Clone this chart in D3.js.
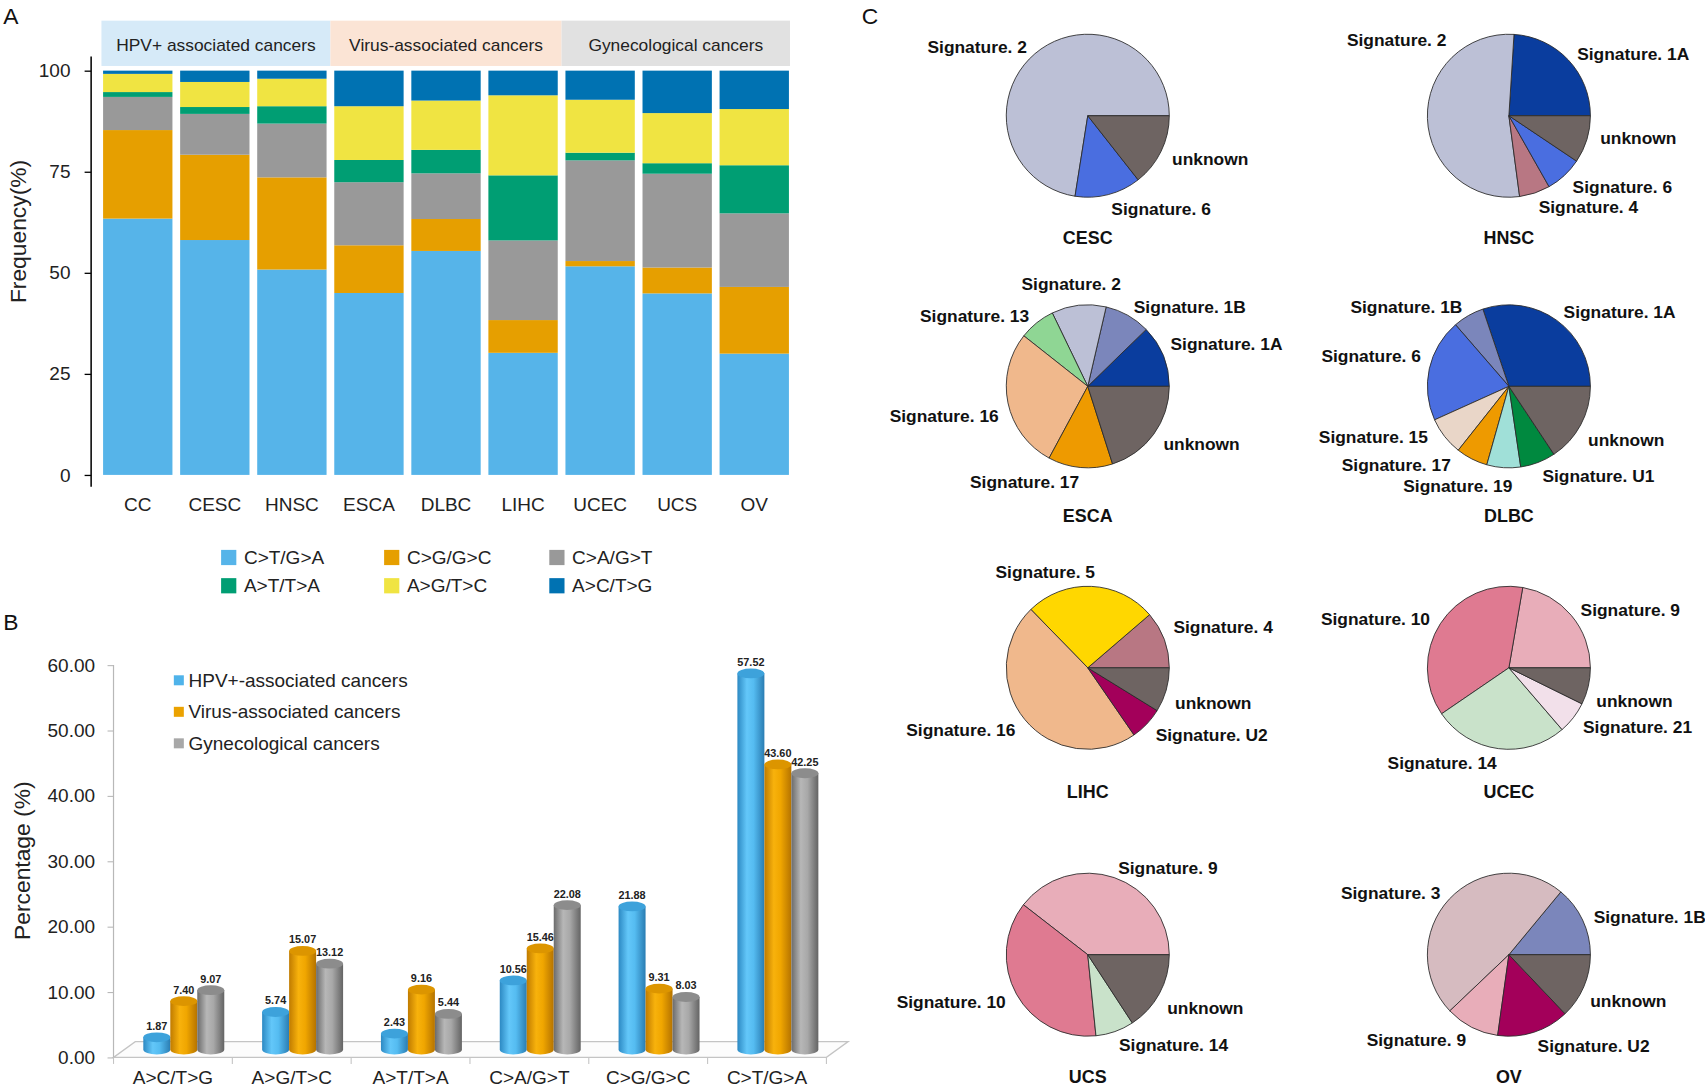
<!DOCTYPE html>
<html>
<head>
<meta charset="utf-8">
<script src="https://cdn.jsdelivr.net/npm/d3@7"></script>
<style>
  body { margin: 0; background: #fff; }
  svg { display: block; font-family: "Liberation Sans", Arial, sans-serif; }
</style>
</head>
<body>
<svg id="fig"></svg>
<script>
// ---------- panel A : mutation spectrum per cancer ----------
const cancersA = ["CC", "CESC", "HNSC", "ESCA", "DLBC", "LIHC", "UCEC", "UCS", "OV"];
const mutTypesA = ["C>T/G>A", "C>G/G>C", "C>A/G>T", "A>T/T>A", "A>G/T>C", "A>C/T>G"];
const ctgaA = [63.4, 58.1, 50.8, 45.0, 55.4, 30.2, 51.6, 44.9, 30.0];
const cggcA = [21.9, 21.1, 22.8, 11.8, 7.9, 8.1, 1.3, 6.4, 16.5];
const cagtA = [8.2, 10.1, 13.3, 15.6, 11.3, 19.7, 24.9, 23.2, 18.2];
const attaA = [1.2, 1.7, 4.3, 5.5, 5.8, 16.1, 1.9, 2.6, 11.9];
const agtcA = [4.5, 6.2, 6.8, 13.3, 12.2, 19.8, 13.1, 12.4, 13.9];
const actgA = [0.8, 2.8, 2.0, 8.8, 7.4, 6.1, 7.2, 10.5, 9.5];
const yTicksA = [0, 25, 50, 75, 100];
const groupNamesA = ["HPV+ associated cancers", "Virus-associated cancers", "Gynecological cancers"];
const groupMembersA = [["CC", "CESC", "HNSC"], ["ESCA", "DLBC", "LIHC"], ["UCEC", "UCS", "OV"]];

// ---------- panel B : average spectrum per cancer group ----------
const typesB = ["A>C/T>G", "A>G/T>C", "A>T/T>A", "C>A/G>T", "C>G/G>C", "C>T/G>A"];
const seriesB = ["HPV+-associated cancers", "Virus-associated cancers", "Gynecological cancers"];
const hpvB = [1.87, 5.74, 2.43, 10.56, 21.88, 57.52];
const virusB = [7.40, 15.07, 9.16, 15.46, 9.31, 43.60];
const gynB = [9.07, 13.12, 5.44, 22.08, 8.03, 42.25];
const yTicksB = [0, 10, 20, 30, 40, 50, 60];

// ---------- panel C : signature contributions ----------
const pieCancers = ["CESC", "HNSC", "ESCA", "DLBC", "LIHC", "UCEC", "UCS", "OV"];
const pieLabels = [
    ["Signature. 2", "Signature. 6", "unknown"],
    ["Signature. 1A", "Signature. 2", "Signature. 4", "Signature. 6", "unknown"],
    ["Signature. 1A", "Signature. 1B", "Signature. 2", "Signature. 13", "Signature. 16", "Signature. 17", "unknown"],
    ["Signature. 1A", "Signature. 1B", "Signature. 6", "Signature. 15", "Signature. 17", "Signature. 19", "Signature. U1", "unknown"],
    ["Signature. 4", "Signature. 5", "Signature. 16", "Signature. U2", "unknown"],
    ["Signature. 9", "Signature. 10", "Signature. 14", "Signature. 21", "unknown"],
    ["Signature. 9", "Signature. 10", "Signature. 14", "unknown"],
    ["Signature. 1B", "Signature. 3", "Signature. 9", "Signature. U2", "unknown"]
];
const pieShares = [
    [72.5, 13.1, 14.4],
    [24.0, 53.1, 6.1, 7.4, 9.4],
    [12.3, 9.1, 10.8, 7.2, 27.8, 12.8, 20.1],
    [30.2, 6.2, 20.4, 7.6, 6.3, 6.7, 7.0, 15.7],
    [11.3, 26.0, 47.3, 6.6, 8.8],
    [22.3, 37.3, 26.8, 6.4, 7.3],
    [39.5, 37.1, 7.6, 15.8],
    [14.0, 48.1, 10.7, 14.3, 12.9]
];

// ---------- styles ----------
const colorA = {
    "C>T/G>A": "#56b4e9", "C>G/G>C": "#e69f00", "C>A/G>T": "#999999",
    "A>T/T>A": "#009e73", "A>G/T>C": "#f0e442", "A>C/T>G": "#0072b2"
};
const headerFill = ["#d6eaf8", "#fbe4d5", "#e1e1e1"];
const cylColors = [
    { stops: ["#2c89c3", "#63c7f9", "#55bcf1", "#2a7db3"], top: "#3da2db", key: "#4fb3ea" },
    { stops: ["#c07b00", "#f8b20c", "#f0a600", "#b57300"], top: "#dc9500", key: "#eba200" },
    { stops: ["#6b6b6b", "#b7b7b7", "#a8a8a8", "#646464"], top: "#8c8c8c", key: "#a8a8a8" }
];
const sigColor = {
    "unknown": "#6e6462",
    "Signature. 1A": "#0a3d9e", "Signature. 1B": "#7b86bb", "Signature. 2": "#bcc0d6",
    "Signature. 3": "#d6bbc0", "Signature. 4": "#b87783", "Signature. 5": "#ffd700",
    "Signature. 6": "#4a6ee0", "Signature. 9": "#e8adb9", "Signature. 10": "#df7a91",
    "Signature. 13": "#8fd694", "Signature. 14": "#c9e2ca", "Signature. 15": "#e9d6c8",
    "Signature. 16": "#f0b88c", "Signature. 17": "#ee9a00", "Signature. 19": "#a0e0d8",
    "Signature. 21": "#f2e0ea", "Signature. U1": "#00893f", "Signature. U2": "#a3005a"
};

const W = 1568, H = 1003;
const svg = d3.select("#fig")
    .attr("width", 1705)
    .attr("height", 1090)
    .attr("viewBox", `0 0 ${W} ${H}`);

function panelLetter(x, y, t) {
    svg.append("text").attr("x", x).attr("y", y)
        .attr("font-size", 21).attr("fill", "#111").text(t);
}

panelLetter(2.5, 22, "A");
panelLetter(2.5, 580, "B");
panelLetter(792.5, 22, "C");

drawPanelA();
drawPanelB();
drawPanelC();

function drawPanelA() {
    const g = svg.append("g");
    const xA = d3.scaleBand().domain(cancersA).range([94.4, 725.5]).paddingInner(0.1);
    const yA = d3.scaleLinear().domain([0, 100]).range([437, 65]);

    // header bands
    const gap = xA.step() - xA.bandwidth();
    groupMembersA.forEach((members, i) => {
        const first = xA(members[0]);
        const last = xA(members[members.length - 1]) + xA.bandwidth();
        const left = i === 0 ? first - 1.5 : first - gap / 2;
        const right = i === groupMembersA.length - 1 ? last + 1 : last + gap / 2;
        g.append("rect")
            .attr("x", left).attr("y", 19)
            .attr("width", right - left).attr("height", 41.7)
            .attr("fill", headerFill[i]);
        g.append("text")
            .attr("x", (left + right) / 2).attr("y", 46.5)
            .attr("text-anchor", "middle")
            .attr("font-size", 16).attr("fill", "#222")
            .text(groupNamesA[i]);
    });

    const series = [ctgaA, cggcA, cagtA, attaA, agtcA, actgA];
    const rows = cancersA.map((c, i) => {
        const row = { cancer: c };
        mutTypesA.forEach((t, k) => row[t] = series[k][i]);
        return row;
    });
    const stacked = d3.stack().keys(mutTypesA)(rows);

    g.selectAll("g.layer")
        .data(stacked)
        .join("g")
        .attr("class", "layer")
        .attr("fill", d => colorA[d.key])
        .selectAll("rect")
        .data(d => d)
        .join("rect")
        .attr("x", d => xA(d.data.cancer))
        .attr("width", xA.bandwidth())
        .attr("y", d => yA(d[1]))
        .attr("height", d => yA(d[0]) - yA(d[1]));

    // y axis
    g.append("line")
        .attr("x1", 83.4).attr("x2", 83.4)
        .attr("y1", 52).attr("y2", 448)
        .attr("stroke", "#000").attr("stroke-width", 1.4);
    const yAxis = g.append("g")
        .attr("transform", "translate(83.4,0)")
        .call(d3.axisLeft(yA).tickValues(yTicksA).tickSize(6).tickPadding(13));
    yAxis.select(".domain").remove();
    yAxis.selectAll("line").attr("stroke", "#000").attr("stroke-width", 1.2);
    yAxis.selectAll("text").attr("font-size", 17.5).attr("fill", "#222")
        .attr("font-family", "Liberation Sans, Arial, sans-serif");

    const xAxis = g.append("g")
        .attr("transform", "translate(0,437)")
        .call(d3.axisBottom(xA).tickSize(0).tickPadding(20.6));
    xAxis.select(".domain").remove();
    xAxis.selectAll("text").attr("font-size", 17.5).attr("fill", "#222")
        .attr("font-family", "Liberation Sans, Arial, sans-serif");

    g.append("text")
        .attr("transform", "translate(16.4,213) rotate(-90)")
        .attr("text-anchor", "middle").attr("dy", "0.35em")
        .attr("font-size", 21).attr("fill", "#222")
        .text("Frequency(%)");

    // legend, 3 columns x 2 rows
    const colX = [203, 353, 505];
    const rowY = [513, 539];
    const legendOrder = ["C>T/G>A", "C>G/G>C", "C>A/G>T", "A>T/T>A", "A>G/T>C", "A>C/T>G"];
    legendOrder.forEach((t, i) => {
        const x = colX[i % 3], y = rowY[Math.floor(i / 3)];
        g.append("rect").attr("x", x).attr("y", y - 7)
            .attr("width", 14).attr("height", 14).attr("fill", colorA[t]);
        g.append("text").attr("x", x + 21).attr("y", y).attr("dy", "0.35em")
            .attr("font-size", 17.5).attr("fill", "#222").text(t);
    });
}

function drawPanelB() {
    const g = svg.append("g");
    const defs = svg.append("defs");
    const depthX = 20, depthY = 14.5;

    const xB = d3.scaleBand().domain(typesB).range([104, 760]);
    const yB = d3.scaleLinear().domain([0, 60]).range([973, 612]);
    const xS = d3.scaleBand().domain(seriesB).range([0, 74.5]);
    const groupOffset = (xB.bandwidth() - 74.5) / 2 + depthX / 2;
    const values = [hpvB, virusB, gynB];

    cylColors.forEach((c, i) => {
        const lg = defs.append("linearGradient").attr("id", "cyl" + i)
            .attr("x1", 0).attr("x2", 1).attr("y1", 0).attr("y2", 0);
        [0, 0.35, 0.6, 1].forEach((o, k) =>
            lg.append("stop").attr("offset", o).attr("stop-color", c.stops[k]));
    });

    // floor
    const x0 = xB.range()[0], x1 = xB.range()[1], y0 = yB(0);
    g.append("path")
        .attr("d", `M${x0},${y0}L${x1},${y0}L${x1 + depthX},${y0 - depthY}L${x0 + depthX},${y0 - depthY}Z`)
        .attr("fill", "#fcfcfc").attr("stroke", "#c4c4c4").attr("stroke-width", 1.2);

    // y axis
    g.append("line")
        .attr("x1", x0).attr("x2", x0)
        .attr("y1", yB(60)).attr("y2", y0)
        .attr("stroke", "#b8b8b8").attr("stroke-width", 1.1);
    const yAxis = g.append("g")
        .attr("transform", `translate(${x0},0)`)
        .call(d3.axisLeft(yB).tickValues(yTicksB).tickFormat(d3.format(".2f"))
            .tickSize(5.5).tickPadding(11.5));
    yAxis.select(".domain").remove();
    yAxis.selectAll("line").attr("stroke", "#b8b8b8");
    yAxis.selectAll("text").attr("font-size", 17.5).attr("fill", "#222")
        .attr("font-family", "Liberation Sans, Arial, sans-serif");

    // x axis: boundary ticks + centred labels
    const bounds = typesB.map(d => xB(d)).concat([x1]);
    g.selectAll("line.xtick")
        .data(bounds)
        .join("line")
        .attr("class", "xtick")
        .attr("x1", d => d).attr("x2", d => d)
        .attr("y1", y0).attr("y2", y0 + 6)
        .attr("stroke", "#c4c4c4");
    const xAxis = g.append("g")
        .attr("transform", `translate(0,${y0})`)
        .call(d3.axisBottom(xB).tickSize(0).tickPadding(12.5));
    xAxis.select(".domain").remove();
    xAxis.selectAll("text").attr("font-size", 17.5).attr("fill", "#222")
        .attr("font-family", "Liberation Sans, Arial, sans-serif");

    // cylinders
    const ry = 4.5;
    const w = xS.bandwidth();
    typesB.forEach((t, i) => {
        seriesB.forEach((s, j) => {
            const v = values[j][i];
            const bx = xB(t) + groupOffset + xS(s);
            const yb = yB(0) - depthY / 2;
            const yt = yB(v) - depthY / 2;
            g.append("path")
                .attr("d", `M${bx},${yt}L${bx},${yb}A${w / 2},${ry} 0 0 0 ${bx + w},${yb}L${bx + w},${yt}Z`)
                .attr("fill", `url(#cyl${j})`);
            g.append("ellipse")
                .attr("cx", bx + w / 2).attr("cy", yt)
                .attr("rx", w / 2).attr("ry", ry)
                .attr("fill", cylColors[j].top);
            g.append("text")
                .attr("x", bx + w / 2).attr("y", yt - ry - 2.5)
                .attr("text-anchor", "middle")
                .attr("font-size", 10).attr("font-weight", "bold").attr("fill", "#222")
                .text(d3.format(".2f")(v));
        });
    });

    // legend
    seriesB.forEach((s, j) => {
        const y = 626 + j * 29;
        g.append("rect").attr("x", 159.5).attr("y", y - 4.6)
            .attr("width", 9.2).attr("height", 9.2).attr("fill", cylColors[j].key);
        g.append("text").attr("x", 173).attr("y", y).attr("dy", "0.35em")
            .attr("font-size", 17.5).attr("fill", "#222").text(s);
    });

    g.append("text")
        .attr("transform", "translate(20,792) rotate(-90)")
        .attr("text-anchor", "middle").attr("dy", "0.35em")
        .attr("font-size", 21).attr("fill", "#222")
        .text("Percentage (%)");
}

function drawPanelC() {
    const g = svg.append("g");
    const colX = [1000.5, 1388];
    const rowY = [106.5, 355.5, 614.5, 878.5];
    const titleY = [218.6, 474.2, 728.2, 990.5];
    const r = 75;

    // labels that were moved by hand in the figure: [dx, dy, anchor] from pie centre
    const labelMoved = {
        "HNSC|Signature. 2": [-57.5, -69.6, "end"],
        "HNSC|unknown": [84, 20, "start"],
        "ESCA|Signature. 2": [30.5, -93.8, "end"],
        "ESCA|Signature. 16": [-81.9, 27.2, "end"],
        "ESCA|Signature. 1A": [76.1, -39.3, "start"],
        "DLBC|Signature. 6": [-81, -27.7, "end"],
        "DLBC|Signature. 15": [-74.5, 46.1, "end"],
        "DLBC|Signature. 17": [-53.4, 72.1, "end"],
        "DLBC|Signature. 19": [3.2, 91.8, "end"],
        "DLBC|unknown": [72.9, 49.3, "start"],
        "LIHC|Signature. 5": [6.6, -88, "end"],
        "LIHC|Signature. 4": [78.8, -37.7, "start"],
        "LIHC|unknown": [80.3, 32.3, "start"],
        "UCEC|unknown": [80.5, 30.4, "start"],
        "UCS|unknown": [73.1, 49.4, "start"],
        "OV|unknown": [74.8, 42.8, "start"]
    };

    // R style pie: start at 3 o'clock, counter-clockwise
    const pie = d3.pie().sort(null).value(d => d.v)
        .startAngle(Math.PI / 2).endAngle(Math.PI / 2 - 2 * Math.PI);
    const arc = d3.arc().innerRadius(0).outerRadius(r);

    pieCancers.forEach((cancer, p) => {
        const cx = colX[p % 2], cy = rowY[Math.floor(p / 2)];
        const data = pieLabels[p].map((l, k) => ({ label: l, v: pieShares[p][k] }));
        const pg = g.append("g").attr("transform", `translate(${cx},${cy})`);

        pg.selectAll("path")
            .data(pie(data))
            .join("path")
            .attr("d", arc)
            .attr("fill", d => sigColor[d.data.label])
            .attr("stroke", "#2a2a2a")
            .attr("stroke-width", 0.8);

        pg.selectAll("text.lab")
            .data(pie(data))
            .join("text")
            .attr("class", "lab")
            .each(function (d) {
                const key = cancer + "|" + d.data.label;
                let x, y, anchor;
                if (labelMoved[key]) {
                    [x, y, anchor] = labelMoved[key];
                } else {
                    const m = (d.startAngle + d.endAngle) / 2;
                    x = Math.sin(m) * r * 1.15;
                    y = -Math.cos(m) * r * 1.15 + 2;
                    anchor = Math.sin(m) < 0 ? "end" : "start";
                }
                d3.select(this).attr("x", x).attr("y", y).attr("text-anchor", anchor);
            })
            .attr("dy", "0.35em")
            .attr("font-size", 16).attr("font-weight", "bold").attr("fill", "#111")
            .text(d => d.data.label);

        g.append("text")
            .attr("x", cx).attr("y", titleY[Math.floor(p / 2)] + 5.8)
            .attr("text-anchor", "middle")
            .attr("font-size", 16.5).attr("font-weight", "bold").attr("fill", "#111")
            .text(cancer);
    });
}
</script>
</body>
</html>
